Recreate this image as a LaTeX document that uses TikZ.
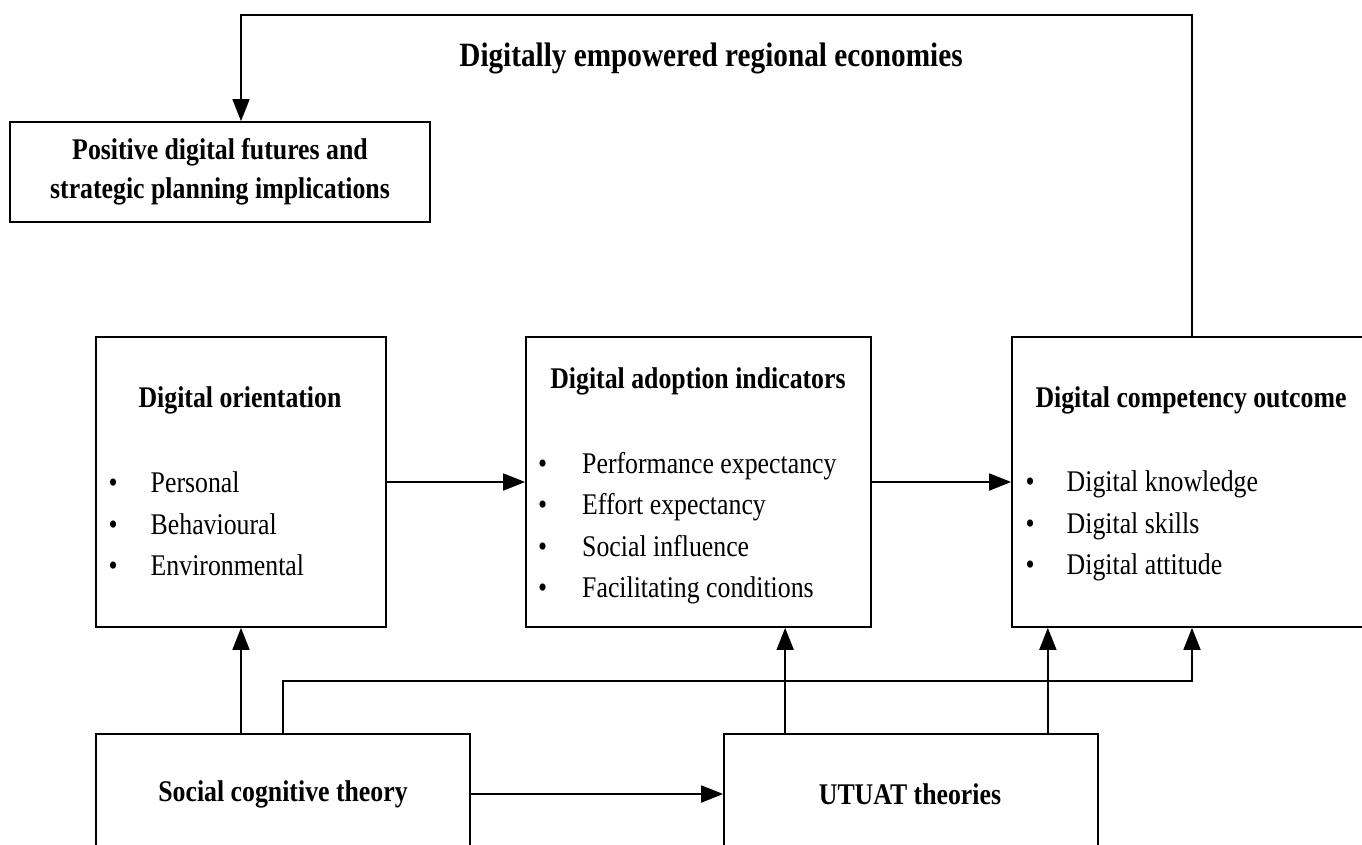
\documentclass[tikz,border=0pt]{standalone}
\usepackage{fontspec}
\setmainfont{Liberation Serif}[FakeStretch=0.86]
\usetikzlibrary{arrows.meta,calc}

\tikzset{
  box/.style={draw, line width=1.7pt, rectangle, inner sep=0pt},
  link/.style={line width=1.7pt},
  arr/.style={link, -{Triangle[length=22pt,width=17pt]}},
  head/.style={inner sep=0pt, align=center, font=\fontsize{30}{39}\selectfont\bfseries},
  list/.style={inner sep=0pt, anchor=west, font=\fontsize{30}{41.5}\selectfont},
}
\newcommand{\bl}{\textbullet}

\begin{document}
\begin{tikzpicture}[x=1pt, y=-1pt]
  \useasboundingbox (0,0) rectangle (1362,845);
  \clip (0,0) rectangle (1362,845);

  % boxes (pixel-style coordinates, y grows downwards)
  \node[box, minimum width=420pt, minimum height=100pt] (pos)    at (220,172) {};
  \node[box, minimum width=290pt, minimum height=290pt] (orient) at (241,482) {};
  \node[box, minimum width=345pt, minimum height=290pt] (adopt)  at (698.5,482) {};
  \node[box, minimum width=360pt, minimum height=290pt] (comp)   at (1192,482) {};
  \node[box, minimum width=374pt, minimum height=180pt] (sct)    at (283,824) {};
  \node[box, minimum width=374pt, minimum height=180pt] (utuat)  at (911,824) {};

  % headline
  \node[head, font=\fontsize{34}{40}\selectfont\bfseries] (ttl) at (711,58)
    {Digitally empowered regional economies};

  % texts inside boxes
  \node[head] (posT) at (220,172) {Positive digital futures and\\strategic planning implications};
  \node[head] (orientT) at (240,400) {Digital orientation};
  \node[head] (adoptT)  at (698,381) {Digital adoption indicators};
  \node[head] (compT)   at (1191,400) {Digital competency outcome};
  \node[head] (sctT)    at (283,794) {Social cognitive theory};
  \node[head] (utuatT)  at (910,794) {UTUAT theories};

  \node[list] (orientL) at (108.5,526) {%
    \begin{tabular}{@{}l@{\hspace{33pt}}l@{}}
      \bl & Personal\\ \bl & Behavioural\\ \bl & Environmental
    \end{tabular}};
  \node[list] (adoptL) at (538,527) {%
    \begin{tabular}{@{}l@{\hspace{35pt}}l@{}}
      \bl & Performance expectancy\\ \bl & Effort expectancy\\
      \bl & Social influence\\ \bl & Facilitating conditions
    \end{tabular}};
  \node[list] (compL) at (1025.5,525) {%
    \begin{tabular}{@{}l@{\hspace{32pt}}l@{}}
      \bl & Digital knowledge\\ \bl & Digital skills\\ \bl & Digital attitude
    \end{tabular}};

  % connector waypoints
  \coordinate (topR) at (comp.north |- 0,15);
  \coordinate (topL) at (orient.north |- 0,15);
  \coordinate (busL) at (sct.north |- 0,681);
  \coordinate (busR) at (comp.south |- 0,681);
  \coordinate (u1) at ($(utuat.north west)+(62,0)$);
  \coordinate (u2) at ($(utuat.north east)+(-51,0)$);

  % connectors
  \draw[arr] (comp.north) -- (topR) -- (topL) -- (topL |- pos.north);
  \draw[arr] (orient.east) -- (adopt.west);
  \draw[arr] (adopt.east) -- (comp.west);
  \draw[arr] (orient.south |- sct.north) -- (orient.south);
  \draw[arr] (sct.north) -- (busL) -- (busR) -- (comp.south);
  \draw[arr] (sct.east |- sctT) -- (utuat.west |- sctT);
  \draw[arr] (u1) -- (u1 |- adopt.south);
  \draw[arr] (u2) -- (u2 |- comp.south);
\end{tikzpicture}
\end{document}
